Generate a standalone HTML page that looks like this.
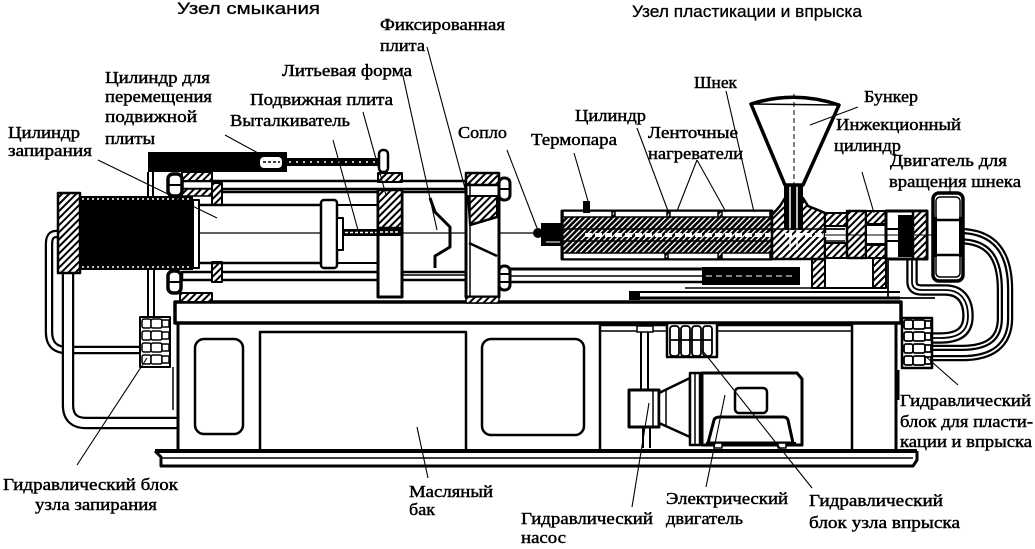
<!DOCTYPE html>
<html><head><meta charset="utf-8"><style>
html,body{margin:0;padding:0;background:#fff;}
svg{display:block}
.s{font-family:"Liberation Serif","Noto Serif CJK SC",serif;font-size:17px;fill:#000;stroke:#000;stroke-width:0.45}
.h{font-family:"Liberation Sans","Noto Sans CJK SC",sans-serif;font-size:17px;fill:#000;stroke:#000;stroke-width:0.3}
</style></head><body>
<svg width="1035" height="549" viewBox="0 0 1035 549" xmlns="http://www.w3.org/2000/svg">
<defs>
<pattern id="h" patternUnits="userSpaceOnUse" width="5" height="5" patternTransform="rotate(45)"><rect width="5" height="5" fill="#fff"/><rect width="2" height="5" fill="#000"/></pattern>
<pattern id="hd" patternUnits="userSpaceOnUse" width="4" height="4" patternTransform="rotate(45)"><rect width="4" height="4" fill="#000"/><rect width="1.4" height="4" fill="#fff"/></pattern>
</defs>
<rect width="1035" height="549" fill="#fff"/>

<g fill="none" stroke="#000" stroke-width="2" stroke-linejoin="round">
<!-- LEFT PIPES -->
<path d="M62,234 L56,234 Q49,234 49,244 L49,332 Q49,350 67,350 L142,350" stroke-width="8.5"/>
<path d="M62,234 L56,234 Q49,234 49,244 L49,332 Q49,350 67,350 L142,350" stroke="#fff" stroke-width="4"/>
<path d="M68,273 L68,405 Q68,423 86,423 L178,423" stroke-width="12.5"/>
<path d="M68,273 L68,405 Q68,423 86,423 L178,423" stroke="#fff" stroke-width="8"/>

<!-- RIGHT PIPES -->
<path d="M958,236 C992,236 1005,255 1005,290 L1005,318 C1005,342 990,353 962,353 L930,353" stroke-width="16.5"/>
<path d="M958,236 C992,236 1005,255 1005,290 L1005,318 C1005,342 990,353 962,353 L930,353" stroke="#fff" stroke-width="12"/>
<path d="M958,236 C992,236 1005,255 1005,290 L1005,318 C1005,342 990,353 962,353 L930,353" stroke-width="8.5"/>
<path d="M958,236 C992,236 1005,255 1005,290 L1005,318 C1005,342 990,353 962,353 L930,353" stroke="#fff" stroke-width="4"/>
<path d="M912,258 L912,282 Q912,290 922,290 L945,290 C962,290 968,302 968,316 C968,332 958,338 940,338 L930,338" stroke-width="11.5"/>
<path d="M912,258 L912,282 Q912,290 922,290 L945,290 C962,290 968,302 968,316 C968,332 958,338 940,338 L930,338" stroke="#fff" stroke-width="7"/>
<path d="M912,258 L912,282 Q912,290 922,290 L945,290 C962,290 968,302 968,316 C968,332 958,338 940,338 L930,338" stroke-width="1.8"/>
<path d="M888,258 L888,298 L935,298" stroke-width="1.8"/>

<!-- connectors from moving cylinder -->
<line x1="148" y1="172" x2="148" y2="197"/><line x1="153" y1="172" x2="153" y2="197"/>
<line x1="148" y1="270" x2="148" y2="318"/><line x1="154" y1="270" x2="154" y2="318"/>

<!-- BED -->
<rect x="175" y="302" width="726" height="21" fill="#fff" stroke-width="3.5"/>
<line x1="178" y1="323" x2="178" y2="451" stroke-width="3"/>
<line x1="173" y1="367" x2="173" y2="410" stroke-width="1.5"/>
<rect x="195" y="339" width="48" height="95" rx="9" stroke-width="2.5"/>
<path d="M260,451 L260,332 L466,332 L466,451" stroke-width="2.5"/>
<rect x="482" y="339" width="102" height="96" rx="9" stroke-width="2.5"/>
<path d="M600,451 L600,325 L852,325 L852,451" stroke-width="2.5"/>
<line x1="600" y1="331" x2="852" y2="331" stroke-width="1.5"/>
<line x1="896" y1="323" x2="896" y2="451" stroke-width="3"/>
<line x1="155" y1="451" x2="917" y2="451" stroke-width="4"/>
<path d="M155,451 L161,457 L161,466 L913,466 L917,460 L917,451" stroke-width="3"/>
<line x1="161" y1="458" x2="913" y2="458" stroke-width="1.5"/>

<!-- LEFT HYDRAULIC BLOCK -->
<rect x="140" y="317" width="30" height="50" fill="#fff"/>
<g stroke-width="1.5" fill="#fff">
<rect x="142" y="319" width="9" height="9" rx="2"/><rect x="151" y="319" width="11" height="9" rx="2"/><rect x="162" y="320" width="7" height="7"/>
<rect x="142" y="331" width="9" height="9" rx="2"/><rect x="151" y="331" width="11" height="9" rx="2"/><rect x="162" y="332" width="7" height="7"/>
<rect x="142" y="343" width="9" height="9" rx="2"/><rect x="151" y="343" width="11" height="9" rx="2"/><rect x="162" y="344" width="7" height="7"/>
<rect x="142" y="355" width="9" height="9" rx="2"/><rect x="151" y="355" width="11" height="9" rx="2"/><rect x="162" y="356" width="7" height="7"/>
</g>

<!-- CLAMPING UNIT -->
<rect x="182" y="181" width="321" height="8" fill="#fff" stroke-width="2.5"/>
<line x1="222" y1="192" x2="466" y2="192" stroke-width="2.5"/>
<rect x="182" y="272" width="321" height="8" fill="#fff" stroke-width="2.5"/>
<rect x="182" y="172" width="30" height="9" fill="url(#h)"/>
<rect x="182" y="189" width="30" height="7" fill="url(#h)" stroke-width="1.5"/>
<rect x="212" y="183" width="10" height="22" fill="url(#h)"/>
<rect x="212" y="262" width="10" height="20" fill="url(#h)"/>
<rect x="168" y="174" width="14" height="22" rx="5" fill="#fff" stroke-width="3.5"/>
<line x1="168" y1="185" x2="182" y2="185"/>
<rect x="168" y="271" width="13" height="22" rx="5" fill="#fff" stroke-width="3.5"/>
<line x1="168" y1="282" x2="181" y2="282"/>
<rect x="180" y="293" width="32" height="9" fill="url(#h)"/>
<rect x="58" y="193" width="22" height="80" fill="url(#h)" stroke-width="2.5"/>
<rect x="80" y="196" width="113" height="74" fill="#000" stroke="none"/>
<line x1="82" y1="199" x2="191" y2="199" stroke="#fff" stroke-width="1.5" stroke-dasharray="2 3"/>
<line x1="82" y1="267" x2="191" y2="267" stroke="#fff" stroke-width="1.5" stroke-dasharray="2 3"/>
<rect x="193" y="200" width="6" height="68" fill="#fff"/>
<line x1="199" y1="205" x2="321" y2="205" stroke-width="2.5"/><line x1="199" y1="263" x2="321" y2="263" stroke-width="2.5"/>
<line x1="337" y1="205" x2="378" y2="205"/><line x1="337" y1="263" x2="378" y2="263"/>
<line x1="199" y1="233" x2="540" y2="233" stroke-width="1.2"/>
<rect x="321" y="200" width="16" height="68" rx="3" fill="#fff" stroke-width="2.5"/>
<rect x="337" y="218" width="6" height="32" fill="#fff"/>
<rect x="343" y="229" width="35" height="7" fill="#000" stroke="none"/>
<line x1="345" y1="232.5" x2="377" y2="232.5" stroke="#fff" stroke-width="1.5" stroke-dasharray="3 2"/>
<!-- moving cylinder -->
<rect x="148" y="152" width="139" height="20" fill="#000" stroke="none"/>
<rect x="259" y="156" width="24" height="13" rx="5" fill="#fff" stroke-width="2"/>
<line x1="263" y1="162" x2="280" y2="162" stroke-width="1.5" stroke-dasharray="3 2"/>
<rect x="287" y="158" width="92" height="8" fill="#000" stroke="none"/>
<line x1="289" y1="162" x2="377" y2="162" stroke="#fff" stroke-width="1.5" stroke-dasharray="2 5"/>
<rect x="379" y="150" width="9" height="22" rx="4" fill="#fff" stroke-width="2.5"/>
<rect x="378" y="173" width="24" height="9" fill="url(#h)"/>
<!-- moving plate -->
<rect x="378" y="190" width="24" height="107" fill="#fff" stroke-width="3"/>
<rect x="378" y="190" width="24" height="38" fill="url(#h)" stroke-width="2.5"/>
<rect x="378" y="228" width="24" height="8" fill="#000" stroke="none"/>
<line x1="380" y1="232" x2="400" y2="232" stroke="#fff" stroke-width="1.5" stroke-dasharray="3 2"/>
<line x1="402" y1="275" x2="466" y2="275" stroke-width="1.5"/>
<!-- mold -->
<polyline points="430,198 435,212 450,227 450,247 435,256 435,268" stroke-width="3"/>
<!-- fixed plate -->
<rect x="466" y="183" width="33" height="114" fill="#fff" stroke-width="3"/>
<rect x="466" y="173" width="33" height="12" fill="url(#h)" stroke-width="2.5"/>
<polygon points="468,196 497,196 497,217 470,225" fill="url(#h)" stroke-width="2"/>
<line x1="470" y1="225" x2="497" y2="217" stroke-width="2.5"/>
<line x1="469" y1="243" x2="497" y2="256" stroke-width="2.5"/>
<line x1="470" y1="183" x2="470" y2="297" stroke-width="1.5"/>
<rect x="466" y="297" width="33" height="6" fill="url(#h)" stroke-width="1.5"/>
<rect x="499" y="178" width="11" height="22" rx="5" fill="#fff" stroke-width="3"/>
<line x1="499" y1="189" x2="510" y2="189"/>
<rect x="499" y="266" width="11" height="24" rx="5" fill="#fff" stroke-width="3"/>
<line x1="499" y1="274" x2="510" y2="274"/><line x1="499" y1="282" x2="510" y2="282"/>

<!-- INJECTION UNIT lower guides -->
<line x1="510" y1="269" x2="702" y2="269" stroke-width="3"/>
<line x1="510" y1="276" x2="702" y2="276" stroke-width="1.5"/>
<line x1="510" y1="282" x2="702" y2="282" stroke-width="2.5"/>
<rect x="702" y="267" width="98" height="18" fill="#000" stroke="none"/>
<line x1="706" y1="276" x2="796" y2="276" stroke="#fff" stroke-width="1" stroke-dasharray="6 4"/>
<line x1="685" y1="288" x2="812" y2="288" stroke-width="1.5"/>
<line x1="629" y1="292" x2="900" y2="292" stroke-width="2"/>
<line x1="629" y1="298" x2="900" y2="298" stroke-width="3"/>
<rect x="629" y="291" width="11" height="9" fill="#000" stroke="none"/>
<rect x="812" y="258" width="13" height="30" fill="url(#h)"/>
<rect x="825" y="258" width="48" height="30" fill="#fff"/>
<rect x="873" y="258" width="13" height="30" fill="url(#h)"/>

<!-- barrel -->
<rect x="562" y="211" width="210" height="48" fill="url(#hd)" stroke-width="3"/>
<g fill="#fff" stroke-width="1.5">
<rect x="563" y="211" width="49" height="6"/><rect x="615" y="211" width="52" height="6"/><rect x="670" y="211" width="48" height="6"/><rect x="722" y="211" width="48" height="6"/>
<rect x="563" y="253" width="102" height="6"/><rect x="668" y="253" width="50" height="6"/><rect x="722" y="253" width="48" height="6"/>
</g>
<line x1="562" y1="229" x2="845" y2="229" stroke-width="1.5"/>
<line x1="562" y1="241" x2="845" y2="241" stroke-width="1.5"/>
<line x1="585" y1="235" x2="843" y2="235" stroke="#fff" stroke-width="4" stroke-dasharray="7 3"/>
<rect x="583" y="201" width="7" height="12" fill="#000" stroke="none"/>
<rect x="541" y="223" width="21" height="23" fill="#000" stroke="none"/>
<circle cx="538" cy="233" r="5" fill="#000" stroke="none"/>
<line x1="546" y1="242" x2="560" y2="242" stroke="#fff" stroke-width="1"/>
<!-- feed block -->
<path d="M772,259 L772,215 L780,206 L785,198 L803,198 L808,206 L818,210 L825,213 L825,259 Z" fill="url(#h)" stroke-width="2.5"/>
<rect x="784" y="185" width="19" height="45" fill="#000" stroke="none"/>
<line x1="790" y1="186" x2="790" y2="250" stroke="#fff" stroke-width="1.5"/>
<line x1="797" y1="186" x2="797" y2="250" stroke="#fff" stroke-width="1.5"/>
<line x1="772" y1="229" x2="845" y2="229" stroke-width="1.5"/>
<line x1="785" y1="235" x2="843" y2="235" stroke="#fff" stroke-width="4" stroke-dasharray="7 3"/>
<!-- shaft region -->
<rect x="825" y="213" width="22" height="13" fill="url(#h)"/>
<rect x="825" y="243" width="22" height="15" fill="url(#h)"/>
<!-- injection cylinder -->
<rect x="847" y="211" width="19" height="47" fill="url(#h)" stroke-width="2.5"/>
<rect x="866" y="211" width="20" height="13" fill="url(#h)"/>
<rect x="866" y="245" width="20" height="13" fill="url(#h)"/>
<rect x="866" y="225" width="20" height="19" fill="#fff"/>
<rect x="886" y="211" width="41" height="48" fill="#fff" stroke-width="3"/>
<line x1="886" y1="229" x2="898" y2="229"/><line x1="886" y1="241" x2="898" y2="241"/>
<rect x="898" y="215" width="15" height="42" fill="#000" stroke="none"/>
<rect x="913" y="211" width="14" height="48" fill="url(#h)" stroke-width="2.5"/>
<line x1="825" y1="235" x2="933" y2="235" stroke-width="1"/>
<!-- drive motor -->
<rect x="933" y="193" width="30" height="88" rx="6" fill="#fff" stroke-width="3.5"/>
<rect x="936" y="197" width="24" height="80" rx="4" stroke-width="1.5"/>
<rect x="933" y="217" width="4" height="40" fill="#000" stroke="none"/>
<rect x="959" y="217" width="4" height="40" fill="#000" stroke="none"/>
<line x1="933" y1="220" x2="963" y2="220" stroke-width="2.5"/><line x1="933" y1="255" x2="963" y2="255" stroke-width="2.5"/>
<!-- hopper -->
<path d="M751,104 Q795,90 839,105 L803,185 L785,185 Z" fill="#fff" stroke-width="3.5"/>
<line x1="751" y1="104" x2="839" y2="105" stroke-width="1.5"/>
<line x1="794" y1="94" x2="794" y2="185" stroke-width="1" stroke-dasharray="5 3"/>

<!-- LOWER COMPONENTS -->
<rect x="637" y="326" width="16" height="6" fill="#fff" stroke-width="1.5"/>
<line x1="641" y1="332" x2="641" y2="390"/><line x1="648" y1="332" x2="648" y2="390"/>
<line x1="643" y1="427" x2="643" y2="448"/><line x1="650" y1="427" x2="650" y2="448"/>
<rect x="629" y="390" width="30" height="37" fill="#fff" stroke-width="3"/>
<line x1="653" y1="390" x2="653" y2="427" stroke-width="1.5"/>
<polygon points="659,393 690,378 690,437 659,423" fill="#fff" stroke-width="2.5"/>
<line x1="666" y1="390" x2="666" y2="426" stroke-width="1.5"/>
<rect x="690" y="373" width="10" height="72" fill="#fff" stroke-width="2.5"/>
<line x1="695" y1="373" x2="695" y2="445" stroke-width="1.5"/>
<path d="M702,373 L797,373 L802,379 L802,445 L702,445 Z" fill="#fff" stroke-width="3"/>
<rect x="735" y="388" width="32" height="25" rx="4" fill="#fff" stroke-width="2.5"/>
<path d="M708,443 L714,420 Q715,417 720,417 L783,417 Q787,417 788,420 L793,443 Z" fill="#fff" stroke-width="3"/>
<line x1="706" y1="444" x2="796" y2="444" stroke-width="4"/>
<rect x="714" y="443" width="8" height="5" fill="#fff" stroke-width="1.5"/>
<rect x="778" y="443" width="8" height="5" fill="#fff" stroke-width="1.5"/>
<!-- injection valve block -->
<rect x="667" y="323" width="50" height="34" fill="#fff" stroke-width="2.5"/>
<g fill="#fff" stroke-width="1.8">
<rect x="670" y="326" width="9" height="30" rx="3"/><rect x="681" y="326" width="9" height="30" rx="3"/><rect x="692" y="326" width="9" height="30" rx="3"/><rect x="703" y="326" width="9" height="30" rx="3"/>
<line x1="670" y1="340" x2="712" y2="340"/>
</g>
<!-- right hydraulic block -->
<rect x="902" y="318" width="30" height="50" fill="#fff" stroke-width="2.5"/>
<g fill="#fff" stroke-width="1.8">
<rect x="904" y="320" width="9" height="9" rx="2"/><rect x="913" y="320" width="12" height="9" rx="2"/><rect x="925" y="321" width="6" height="7"/>
<rect x="904" y="332" width="9" height="9" rx="2"/><rect x="913" y="332" width="12" height="9" rx="2"/><rect x="925" y="333" width="6" height="7"/>
<rect x="904" y="344" width="9" height="9" rx="2"/><rect x="913" y="344" width="12" height="9" rx="2"/><rect x="925" y="345" width="6" height="7"/>
<rect x="904" y="356" width="9" height="9" rx="2"/><rect x="913" y="356" width="12" height="9" rx="2"/><rect x="925" y="357" width="6" height="7"/>
</g>
<line x1="898" y1="370" x2="898" y2="400" stroke-width="3"/>
</g>

<!-- LEADER LINES -->
<g stroke="#000" stroke-width="1.1" fill="none">
<line x1="98" y1="160" x2="217" y2="218"/>
<line x1="225" y1="135" x2="258" y2="153"/>
<line x1="333" y1="140" x2="358" y2="230"/>
<line x1="363" y1="112" x2="386" y2="195"/>
<line x1="403" y1="76" x2="437" y2="230"/>
<line x1="427" y1="47" x2="470" y2="207"/>
<line x1="507" y1="150" x2="537" y2="228"/>
<line x1="574" y1="153" x2="588" y2="201"/>
<line x1="637" y1="128" x2="668" y2="211"/>
<line x1="697" y1="160" x2="677" y2="211"/>
<line x1="697" y1="160" x2="726" y2="212"/>
<line x1="726" y1="91" x2="754" y2="212"/>
<line x1="858" y1="107" x2="810" y2="125"/>
<line x1="862" y1="172" x2="874" y2="213"/>
<line x1="950" y1="177" x2="950" y2="194"/>
<line x1="77" y1="465" x2="147" y2="358"/>
<line x1="417" y1="427" x2="428" y2="478"/>
<line x1="632" y1="507" x2="649" y2="403"/>
<line x1="706" y1="487" x2="725" y2="395"/>
<line x1="812" y1="488" x2="702" y2="350"/>
<line x1="958" y1="385" x2="924" y2="355"/>
</g>

<!-- TEXT -->
<text class="h" x="177" y="14" font-size="18" textLength="143" lengthAdjust="spacingAndGlyphs">Узел смыкания</text>
<text class="h" x="632" y="17" textLength="230" lengthAdjust="spacingAndGlyphs">Узел пластикации и впрыска</text>
<text class="s" x="380" y="30" textLength="125" lengthAdjust="spacingAndGlyphs">Фиксированная</text>
<text class="s" x="380" y="51" textLength="45" lengthAdjust="spacingAndGlyphs">плита</text>
<text class="s" x="282" y="76" textLength="130" lengthAdjust="spacingAndGlyphs">Литьевая форма</text>
<text class="s" x="105" y="83" textLength="105" lengthAdjust="spacingAndGlyphs">Цилиндр для</text>
<text class="s" x="105" y="102" textLength="107" lengthAdjust="spacingAndGlyphs">перемещения</text>
<text class="s" x="250" y="105" textLength="143" lengthAdjust="spacingAndGlyphs">Подвижная плита</text>
<text class="s" x="105" y="122" textLength="92" lengthAdjust="spacingAndGlyphs">подвижной</text>
<text class="s" x="230" y="126" textLength="120" lengthAdjust="spacingAndGlyphs">Выталкиватель</text>
<text class="s" x="105" y="144" textLength="50" lengthAdjust="spacingAndGlyphs">плиты</text>
<text class="s" x="8" y="138" textLength="72" lengthAdjust="spacingAndGlyphs">Цилиндр</text>
<text class="s" x="8" y="156" textLength="84" lengthAdjust="spacingAndGlyphs">запирания</text>
<text class="s" x="458" y="138" textLength="49" lengthAdjust="spacingAndGlyphs">Сопло</text>
<text class="s" x="694" y="88" textLength="43" lengthAdjust="spacingAndGlyphs">Шнек</text>
<text class="s" x="864" y="102" textLength="54" lengthAdjust="spacingAndGlyphs">Бункер</text>
<text class="s" x="575" y="121" textLength="71" lengthAdjust="spacingAndGlyphs">Цилиндр</text>
<text class="s" x="836" y="130" textLength="125" lengthAdjust="spacingAndGlyphs">Инжекционный</text>
<text class="s" x="531" y="145" textLength="86" lengthAdjust="spacingAndGlyphs">Термопара</text>
<text class="s" x="648" y="138" textLength="90" lengthAdjust="spacingAndGlyphs">Ленточные</text>
<text class="s" x="834" y="151" textLength="67" lengthAdjust="spacingAndGlyphs">цилиндр</text>
<text class="s" x="648" y="159" textLength="95" lengthAdjust="spacingAndGlyphs">нагреватели</text>
<text class="s" x="890" y="166" textLength="117" lengthAdjust="spacingAndGlyphs">Двигатель для</text>
<text class="s" x="889" y="187" textLength="132" lengthAdjust="spacingAndGlyphs">вращения шнека</text>
<text class="s" x="3" y="490" textLength="175" lengthAdjust="spacingAndGlyphs">Гидравлический блок</text>
<text class="s" x="35" y="510" textLength="122" lengthAdjust="spacingAndGlyphs">узла запирания</text>
<text class="s" x="409" y="497" textLength="84" lengthAdjust="spacingAndGlyphs">Масляный</text>
<text class="s" x="409" y="515" textLength="26" lengthAdjust="spacingAndGlyphs">бак</text>
<text class="s" x="900" y="406" textLength="131" lengthAdjust="spacingAndGlyphs">Гидравлический</text>
<text class="s" x="900" y="427" textLength="133" lengthAdjust="spacingAndGlyphs">блок для пласти-</text>
<text class="s" x="900" y="447" textLength="132" lengthAdjust="spacingAndGlyphs">кации и впрыска</text>
<text class="s" x="666" y="504" textLength="122" lengthAdjust="spacingAndGlyphs">Электрический</text>
<text class="s" x="666" y="524" textLength="77" lengthAdjust="spacingAndGlyphs">двигатель</text>
<text class="s" x="809" y="506" textLength="134" lengthAdjust="spacingAndGlyphs">Гидравлический</text>
<text class="s" x="809" y="528" textLength="151" lengthAdjust="spacingAndGlyphs">блок узла впрыска</text>
<text class="s" x="521" y="524" textLength="132" lengthAdjust="spacingAndGlyphs">Гидравлический</text>
<text class="s" x="521" y="543" textLength="45" lengthAdjust="spacingAndGlyphs">насос</text>
</svg>
</body></html>
